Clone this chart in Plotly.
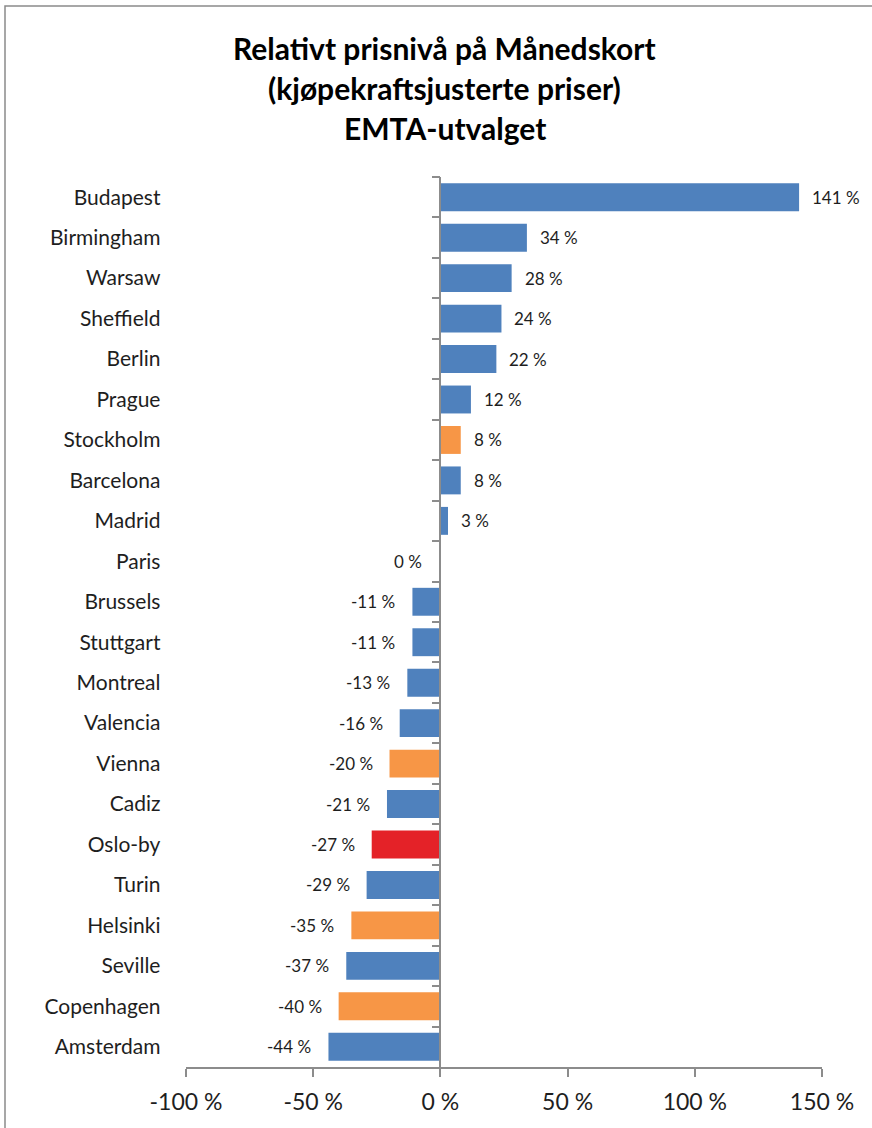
import plotly.graph_objects as go

# Monthly pass price level relative to the EMTA average (PPP-adjusted), percent
cities = [
    "Budapest", "Birmingham", "Warsaw", "Sheffield", "Berlin", "Prague",
    "Stockholm", "Barcelona", "Madrid", "Paris", "Brussels", "Stuttgart",
    "Montreal", "Valencia", "Vienna", "Cadiz", "Oslo-by", "Turin",
    "Helsinki", "Seville", "Copenhagen", "Amsterdam",
]
values = [
    141, 34, 28, 24, 22, 12,
    8, 8, 3, -0.5, -11, -11,
    -13, -16, -20, -21, -27, -29,
    -35, -37, -40, -44,
]
nordic = ["Stockholm", "Vienna", "Helsinki", "Copenhagen"]
home = "Oslo-by"

x_ticks = [-100, -50, 0, 50, 100, 150]
x_tick_labels = ["-100 %", "-50 %", "0 %", "50 %", "100 %", "150 %"]

title_lines = [
    "Relativt prisnivå på Månedskort",
    "(kjøpekraftsjusterte priser)",
    "EMTA-utvalget",
]

BLUE = "#4F81BD"
ORANGE = "#F79646"
RED = "#E42228"
AXIS = "#8C8C8C"
TEXT = "#1E1E1E"
FONT = "Lato"

colors = [RED if c == home else ORANGE if c in nordic else BLUE for c in cities]

fig = go.Figure(
    go.Bar(
        x=values,
        y=cities,
        orientation="h",
        marker=dict(color=colors, line=dict(width=0)),
        width=0.69,
        hoverinfo="skip",
    )
)

# value labels just beyond the end of each bar
annotations = []
for c, v in zip(cities, values):
    pos = v > 0
    annotations.append(
        dict(
            x=v, y=c, xref="x", yref="y",
            text=f"{round(v):.0f} %",
            showarrow=False,
            xanchor="left" if pos else "right",
            xshift=11 if pos else -15,
            font=dict(family=FONT, size=17, color=TEXT),
        )
    )

# three-line title
plot_top, plot_bottom = 177, 1067
for line, py in zip(title_lines, [48, 88, 128]):
    annotations.append(
        dict(
            x=0.407, y=(plot_bottom - py) / (plot_bottom - plot_top),
            xref="paper", yref="paper",
            text=f"<b>{line}</b>", showarrow=False,
            xanchor="center", yanchor="middle",
            font=dict(family=FONT, size=30, color="#000000"),
        )
    )

fig.update_layout(
    width=872,
    height=1128,
    margin=dict(l=186, r=50, t=177, b=61),
    paper_bgcolor="white",
    plot_bgcolor="white",
    showlegend=False,
    annotations=annotations,
    font=dict(family=FONT, color=TEXT),
    xaxis=dict(
        range=[-100, 150],
        tickvals=x_ticks,
        ticktext=x_tick_labels,
        showgrid=False,
        zeroline=False,
        showline=True,
        linecolor=AXIS,
        linewidth=1.5,
        ticks="outside",
        ticklen=8,
        tickcolor=AXIS,
        tickwidth=1.5,
        ticklabelstandoff=6,
        tickfont=dict(family=FONT, size=23, color=TEXT),
        fixedrange=True,
    ),
    yaxis=dict(
        type="category",
        categoryorder="array",
        categoryarray=cities,
        autorange="reversed",
        anchor="free",
        position=0.4,
        showgrid=False,
        zeroline=False,
        showline=True,
        linecolor=AXIS,
        linewidth=1.5,
        ticks="outside",
        ticklen=8,
        tickcolor=AXIS,
        tickwidth=1.5,
        tickson="boundaries",
        ticklabelstandoff=275,
        tickfont=dict(family=FONT, size=21, color=TEXT),
        fixedrange=True,
    ),
    shapes=[
        dict(
            type="rect", xref="paper", yref="paper",
            x0=(5 - 186) / 636, x1=1.5,
            y0=-0.5, y1=1 + (177 - 6) / 890,
            line=dict(color="#8A8A8A", width=1.5),
            fillcolor="rgba(0,0,0,0)",
            layer="below",
        )
    ],
)

fig.write_html("out.html")
